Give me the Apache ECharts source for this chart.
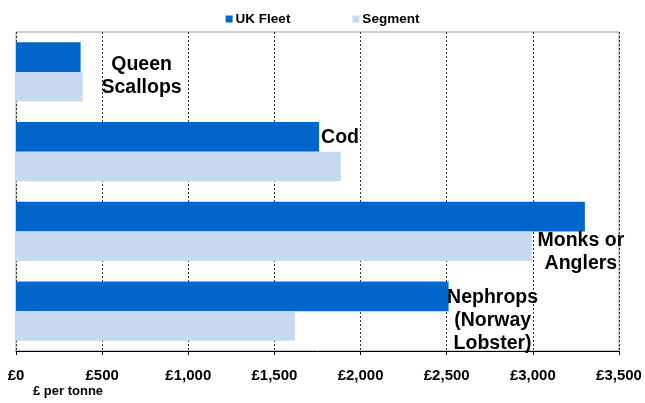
<!DOCTYPE html>
<html><head><meta charset="utf-8">
<script src="https://cdn.jsdelivr.net/npm/echarts@6/dist/echarts.min.js"></script>
<style>html,body{margin:0;padding:0;background:#fff}#c{width:645px;height:403px}</style>
</head><body><div id="c"></div>
<script>
const categories = ["Queen\nScallops", "Cod", "Monks or\nAnglers", "Nephrops\n(Norway\nLobster)"];
const ukFleet = [375, 1759, 3302, 2511];
const segment = [387, 1886, 2993, 1619];
const xTicks = [0, 500, 1000, 1500, 2000, 2500, 3000, 3500];

const labelOffsets = [[61, 19, 'center'], [2, 1, 'left'], [-4, 36, 'center'], [44, 24, 'center']];
const font = '"Liberation Sans", Arial, sans-serif';

const chart = echarts.init(document.getElementById('c'));
chart.setOption({
  animation: false,
  legend: {
    top: 7, left: 'center', itemWidth: 7, itemHeight: 7, itemGap: 62,
    icon: 'rect',
    textStyle: { fontFamily: font, fontWeight: 'bold', fontSize: 13.5, color: '#000', padding: [0, 0, 0, -2] },
    data: ['UK Fleet', 'Segment']
  },
  grid: { left: 16, right: 26, top: 32, bottom: 52, show: true, borderColor: '#9a9a9a', borderWidth: 1 },
  xAxis: {
    type: 'value', min: xTicks[0], max: xTicks[xTicks.length - 1], interval: 500,
    name: '£ per tonne', nameLocation: 'start', nameGap: 0,
    nameTextStyle: { fontFamily: font, fontWeight: 'bold', fontSize: 13, color: '#000', align: 'left', verticalAlign: 'top', padding: [34, 0, 0, 17] },
    axisLine: { show: true, lineStyle: { color: '#000', width: 1 } },
    axisTick: { show: true, length: 4, lineStyle: { color: '#000' } },
    axisLabel: { fontFamily: font, fontWeight: 'bold', fontSize: 15, color: '#000', margin: 17,
      formatter: v => '£' + v.toLocaleString('en-GB') },
    splitLine: { show: true, lineStyle: { color: '#333', type: [2, 2], width: 1 } }
  },
  yAxis: {
    type: 'category', data: categories, inverse: true,
    axisLine: { show: false }, axisTick: { show: false }, axisLabel: { show: false }
  },
  series: [
    {
      name: 'UK Fleet', type: 'bar', barGap: '0%', barCategoryGap: '26%',
      itemStyle: { color: '#0066CC' },
      data: ukFleet.map((v, i) => ({
        value: v,
        label: {
          show: true, position: 'right', distance: 0,
          offset: [labelOffsets[i][0], labelOffsets[i][1]],
          align: labelOffsets[i][2], verticalAlign: 'middle',
          formatter: () => categories[i],
          fontFamily: font, fontWeight: 'bold', fontSize: 19.5, lineHeight: 23, color: '#000'
        }
      }))
    },
    {
      name: 'Segment', type: 'bar', barGap: '0%', barCategoryGap: '26%',
      itemStyle: { color: '#C6D9F0' },
      data: segment
    }
  ]
});
</script></body></html>
